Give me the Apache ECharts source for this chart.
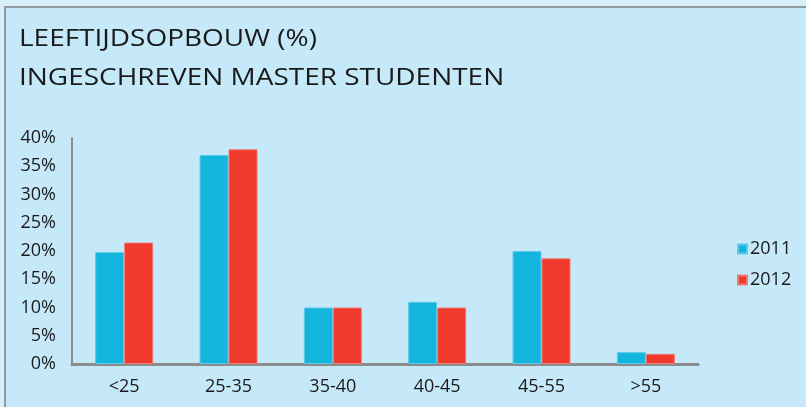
<!DOCTYPE html>
<html><head><meta charset="utf-8">
<script src="https://cdn.jsdelivr.net/npm/echarts@6/dist/echarts.min.js"></script>
<style>html,body{margin:0;padding:0;background:#C5E9F9;}#c{width:806px;height:407px;}</style>
</head><body><div id="c"></div>
<script>
var categories = ['<25', '25-35', '35-40', '40-45', '45-55', '>55'];
var values2011 = [19.8, 37, 10, 11, 20, 2.1];
var values2012 = [21.5, 38, 10, 10, 18.7, 1.8];
var seriesNames = ['2011', '2012'];
var titleLines = ['LEEFTIJDSOPBOUW (%)', 'INGESCHREVEN MASTER STUDENTEN'];

var font = 'Open Sans';
var chart = echarts.init(document.getElementById('c'), null, {renderer: 'canvas'});
chart.setOption({
  backgroundColor: '#C5E9F9',
  animation: false,
  graphic: [
    {type: 'rect', shape: {x: 0, y: 0, width: 806, height: 6}, style: {fill: '#D6EFFA'}, silent: true, z: -1},
    {type: 'rect', shape: {x: 0, y: 0, width: 4, height: 407}, style: {fill: '#D6EFFA'}, silent: true, z: -1},
    {type: 'line', shape: {x1: 4, y1: 7, x2: 806, y2: 7}, style: {stroke: '#8E9A9F', lineWidth: 2}, silent: true},
    {type: 'line', shape: {x1: 5, y1: 6, x2: 5, y2: 407}, style: {stroke: '#8E9A9F', lineWidth: 2}, silent: true},
    {type: 'text', x: 19, y: 27, scaleX: 1.165, style: {text: titleLines[0], font: '24px "' + font + '"', fill: '#1a1a1a', verticalAlign: 'top'}},
    {type: 'text', x: 19, y: 66, scaleX: 1.165, style: {text: titleLines[1], font: '24px "' + font + '"', fill: '#1a1a1a', verticalAlign: 'top'}}
  ],
  legend: {
    orient: 'vertical',
    left: 732, top: 235,
    itemWidth: 9, itemHeight: 9, itemGap: 13,
    icon: 'rect',
    textStyle: {fontFamily: font, fontSize: 18, color: '#1a1a1a', padding: [0, 0, 0, -2]},
    data: seriesNames
  },
  grid: {left: 72, right: 108, top: 138, bottom: 43, containLabel: false},
  xAxis: {
    type: 'category', data: categories,
    axisLine: {lineStyle: {color: '#8C8C8C', width: 3}},
    axisTick: {show: false},
    axisLabel: {fontFamily: font, fontSize: 18, color: '#1a1a1a', margin: 14}
  },
  yAxis: {
    type: 'value', min: 0, max: 40, interval: 5,
    axisLine: {show: true, lineStyle: {color: '#8C8C8C', width: 2}},
    axisTick: {show: false},
    splitLine: {show: false},
    axisLabel: {fontFamily: font, fontSize: 18, color: '#1a1a1a', margin: 16, formatter: '{value}%'}
  },
  series: [
    {name: seriesNames[0], type: 'bar', data: values2011, barWidth: 29, barGap: '0%',
     itemStyle: {color: '#13B5DC', borderColor: '#5CCBEA', borderWidth: 1}},
    {name: seriesNames[1], type: 'bar', data: values2012, barWidth: 29, barGap: '0%',
     itemStyle: {color: '#EF3A2D', borderColor: '#F07A70', borderWidth: 1}}
  ]
});
</script></body></html>
